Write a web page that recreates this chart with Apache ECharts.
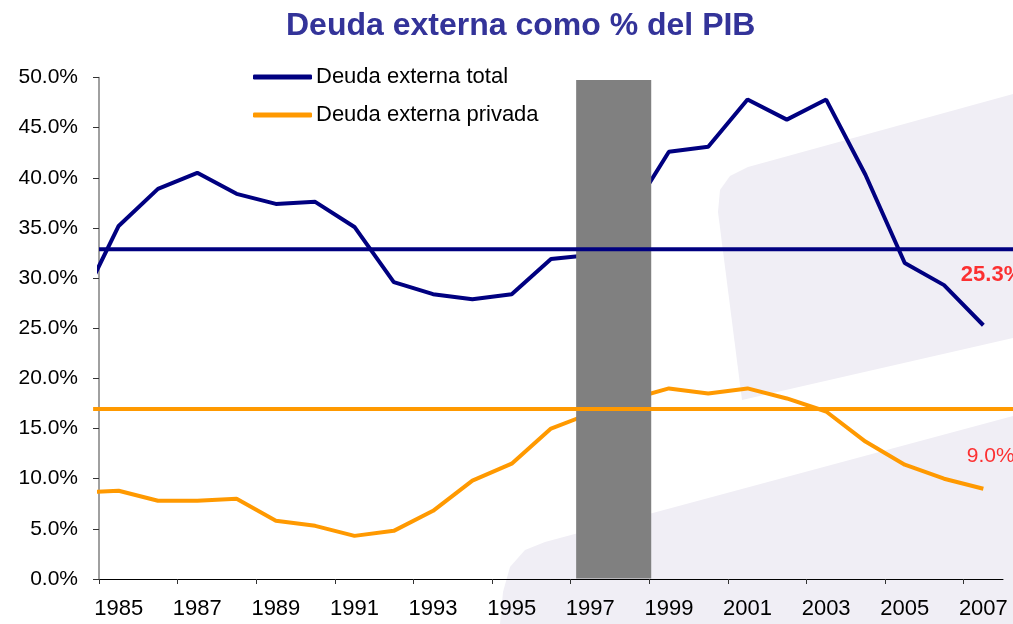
<!DOCTYPE html>
<html>
<head>
<meta charset="utf-8">
<script src="https://cdn.jsdelivr.net/npm/echarts@6/dist/echarts.min.js"></script>
<style>
html,body{margin:0;padding:0;background:#fff;}
#chart{width:1013px;height:624px;}
</style>
</head>
<body>
<div id="chart"></div>
<script>
// ---- data ----
const years = [1984,1985,1986,1987,1988,1989,1990,1991,1992,1993,1994,1995,1996,1997,1998,1999,2000,2001,2002,2003,2004,2005,2006,2007];
const totalDebt = [27.2,35.2,38.9,40.5,38.4,37.4,37.6,35.1,29.6,28.4,27.9,28.4,31.9,32.3,36.3,42.6,43.1,47.8,45.8,47.8,40.3,31.5,29.3,25.3];
const privateDebt = [8.6,8.8,7.8,7.8,8.0,5.8,5.3,4.3,4.8,6.8,9.8,11.5,15.0,16.5,17.9,19.0,18.5,19.0,18.0,16.7,13.7,11.4,10.0,9.0];
const avgTotal = 32.87;
const avgPrivate = 16.95;
const avgTotalSpan = [1984.5, 2007.76];
const avgPrivateSpan = [1984.35, 2007.76];
const crisisYears = [1996.64, 1998.55];
const crisisRange = [0.05, 49.75];
const xTickLabels = [1985,1987,1989,1991,1993,1995,1997,1999,2001,2003,2005,2007];
const xTickMarks = [1984.5,1986.5,1988.5,1990.5,1992.5,1994.5,1996.5,1998.5,2000.5,2002.5,2004.5,2006.5];
const seriesNames = ['Deuda externa total','Deuda externa privada'];
const titleText = 'Deuda externa como % del PIB';

const NAVY = '#000080', ORANGE = '#FF9900';
const FONT = '"Liberation Sans", Arial, sans-serif';

const chart = echarts.init(document.getElementById('chart'), null, {renderer:'canvas'});
const lastIdx = years.length - 1;

// main grid: x 99..1003 for 1984.5..2007.5 ; overlay grid spans the full width with the same scale
const pxPerYear = (1003 - 99) / 23;
const overlayMin = 1984.5 - (99 - 90) / pxPerYear;
const overlayMax = 2007.5 + (1013 - 1003) / pxPerYear;

const option = {
  backgroundColor: '#ffffff',
  animation: false,
  title: {
    text: titleText,
    left: 281, top: 5,
    textStyle: {fontFamily: FONT, fontSize: 32, fontWeight: 'bold', color: '#333399'}
  },
  legend: {
    data: seriesNames.map(n => ({name: n, icon: 'roundRect'})),
    orient: 'vertical',
    left: 253, top: 66, padding: 0,
    itemWidth: 59, itemHeight: 5, itemGap: 16,
    textStyle: {fontFamily: FONT, fontSize: 22, color: '#000', padding: [0, 0, 0, -1]}
  },
  grid: [
    {left: 99, right: 10, top: 77.5, bottom: 45, containLabel: false, outerBoundsMode: 'none'},
    {left: 90, right: 0, top: 77.5, bottom: 45, containLabel: false, outerBoundsMode: 'none'}
  ],
  graphic: [
    {type: 'polygon', z: -10, silent: true,
     shape: {points: [[742,400],[718,212],[720,190],[730,176],[748,167],[1013,94],[1013,338]]},
     style: {fill: '#F0EEF5'}},
    {type: 'polygon', z: -10, silent: true,
     shape: {points: [[500,624],[503,592],[510,567],[525,550],[545,542],[1013,416],[1013,624]]},
     style: {fill: '#F0EEF5'}}
  ],
  xAxis: [{
    type: 'value', min: 1984.5, max: 2007.5, gridIndex: 0,
    axisLine: {show: true, lineStyle: {color: '#000', width: 1}},
    axisTick: {show: true, length: 5, customValues: xTickMarks, lineStyle: {color: '#333'}},
    axisLabel: {customValues: xTickLabels, formatter: v => String(v), margin: 19,
      fontFamily: FONT, fontSize: 22, color: '#000'},
    splitLine: {show: false}
  }, {
    type: 'value', min: overlayMin, max: overlayMax, gridIndex: 1, show: false
  }],
  yAxis: [{
    type: 'value', min: 0, max: 50, interval: 5, gridIndex: 0,
    axisLine: {show: true, lineStyle: {color: '#808080', width: 1.5}},
    axisTick: {show: true, length: 6, lineStyle: {color: '#333'}},
    axisLabel: {formatter: v => v.toFixed(1) + '%', margin: 21,
      fontFamily: FONT, fontSize: 21, color: '#000'},
    splitLine: {show: false}
  }, {
    type: 'value', min: 0, max: 50, gridIndex: 1, show: false
  }],
  series: [
    {
      name: seriesNames[0], type: 'line', z: 2,
      data: years.map((y, i) => [y, totalDebt[i]]),
      symbol: 'none', clip: true,
      lineStyle: {color: NAVY, width: 4}, itemStyle: {color: NAVY}
    },
    {
      name: seriesNames[1], type: 'line', z: 2,
      data: years.map((y, i) => [y, privateDebt[i]]),
      symbol: 'none', clip: true,
      lineStyle: {color: ORANGE, width: 4}, itemStyle: {color: ORANGE}
    },
    {
      name: 'crisis', type: 'custom', z: 3, silent: true,
      data: [[crisisYears[0], crisisYears[1], crisisRange[0], crisisRange[1]]],
      renderItem: function (params, api) {
        const p1 = api.coord([api.value(0), api.value(3)]);
        const p2 = api.coord([api.value(1), api.value(2)]);
        return {type: 'rect', shape: {x: p1[0], y: p1[1], width: p2[0] - p1[0], height: p2[1] - p1[1]},
          style: {fill: '#808080'}};
      }
    },
    {
      name: 'avgTotal', type: 'line', z: 4, silent: true,
      xAxisIndex: 1, yAxisIndex: 1,
      data: [[avgTotalSpan[0], avgTotal], [avgTotalSpan[1], avgTotal]],
      symbol: 'none', lineStyle: {color: NAVY, width: 4}
    },
    {
      name: 'avgPrivate', type: 'line', z: 4, silent: true,
      xAxisIndex: 1, yAxisIndex: 1,
      data: [[avgPrivateSpan[0], avgPrivate], [avgPrivateSpan[1], avgPrivate]],
      symbol: 'none', lineStyle: {color: ORANGE, width: 4}
    },
    {
      name: 'annotTotal', type: 'scatter', z: 5, silent: true, clip: false,
      symbolSize: 1, itemStyle: {color: 'rgba(0,0,0,0)'},
      data: [[years[lastIdx], totalDebt[lastIdx]]],
      label: {show: true, position: [-22, -50], align: 'left', verticalAlign: 'middle',
        formatter: p => p.value[1].toFixed(1) + '%',
        fontFamily: FONT, fontSize: 22, fontWeight: 'bold', color: '#FF0000'}
    },
    {
      name: 'annotPrivate', type: 'scatter', z: 5, silent: true, clip: false,
      symbolSize: 1, itemStyle: {color: 'rgba(0,0,0,0)'},
      data: [[years[lastIdx], privateDebt[lastIdx]]],
      label: {show: true, position: [-16, -32], align: 'left', verticalAlign: 'middle',
        formatter: p => p.value[1].toFixed(1) + '%',
        fontFamily: FONT, fontSize: 21, color: '#FF0000'}
    }
  ]
};
chart.setOption(option);
</script>
</body>
</html>
